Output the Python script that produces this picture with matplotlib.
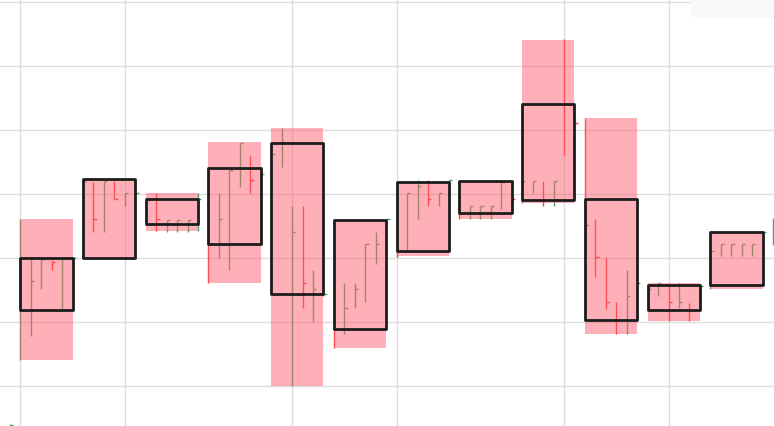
import matplotlib
matplotlib.use("Agg")
import matplotlib.pyplot as plt
from matplotlib.patches import FancyBboxPatch
import numpy as np

# ---- weekly aggregates (12 weeks of 6 trading days) ----
range_hi = [126.0, 132.3, 130.1, 138.1, 140.3, 125.9, 131.8, 132.0, 154.0, 141.9, 116.1, 124.0]
range_lo = [104.0, 120.0, 124.1, 116.0, 100.0, 105.9, 120.3, 126.1, 128.6, 108.1, 110.1, 115.1]
box_hi = [119.9, 132.3, 129.2, 134.0, 138.0, 125.9, 131.8, 132.0, 144.0, 129.2, 115.7, 124.0]
box_lo = [111.8, 120.0, 125.2, 122.1, 114.4, 108.9, 121.0, 127.0, 129.0, 110.2, 111.9, 115.7]

# ---- daily OHLC, one row per week ----
day_open = [
    [107.2, 113.4, 115.7, 119.6, 113.4, 119.3],
    [121.2, 131.4, 125.1, 132.0, 128.1, 129.3],
    [125.3, 130.1, 124.3, 124.3, 124.3, 125.1],
    [129.0, 122.8, 119.6, 132.1, 135.3, 132.6],
    [116.5, 135.3, 119.6, 126.7, 111.8, 114.2],
    [122.8, 109.5, 113.4, 114.2, 120.4, 125.4],
    [129.0, 122.8, 127.5, 131.8, 128.4, 131.7],
    [130.6, 126.5, 126.5, 126.5, 128.2, 129.6],
    [129.0, 130.3, 132.0, 128.4, 153.2, 141.4],
    [141.9, 126.0, 120.1, 113.0, 110.3, 115.7],
    [113.4, 114.3, 115.9, 112.5, 112.8, 112.8],
    [116.5, 120.4, 120.4, 120.4, 120.4, 123.6],
]
day_high = [
    [126.0, 119.8, 119.8, 119.6, 119.8, 120.0],
    [132.3, 131.8, 132.0, 132.0, 130.1, 130.6],
    [129.0, 130.1, 125.9, 125.9, 125.9, 130.1],
    [129.0, 130.1, 133.7, 138.0, 136.0, 133.4],
    [137.6, 140.3, 128.1, 128.1, 118.0, 114.6],
    [122.8, 116.0, 116.0, 122.1, 124.0, 126.0],
    [129.0, 130.1, 132.1, 132.1, 130.1, 132.1],
    [130.6, 128.1, 128.1, 128.1, 131.9, 129.8],
    [132.0, 132.0, 132.0, 132.0, 154.1, 141.5],
    [141.9, 126.0, 120.1, 113.0, 118.0, 116.4],
    [115.6, 116.0, 116.0, 116.0, 112.9, 115.7],
    [122.8, 122.1, 122.1, 122.1, 122.1, 124.0],
]
day_low = [
    [104.0, 107.8, 115.1, 118.0, 112.0, 119.3],
    [120.0, 124.0, 124.0, 129.2, 128.1, 129.0],
    [125.3, 124.2, 124.0, 124.0, 124.0, 124.2],
    [116.0, 120.0, 118.0, 131.1, 130.1, 132.5],
    [115.0, 134.1, 100.0, 112.1, 110.0, 114.0],
    [105.9, 108.1, 112.1, 113.0, 119.0, 125.3],
    [120.1, 121.2, 126.1, 128.1, 128.1, 131.5],
    [126.1, 126.1, 126.1, 126.1, 127.6, 128.7],
    [128.6, 130.1, 128.1, 128.1, 136.0, 140.6],
    [124.3, 117.0, 112.0, 108.1, 108.1, 115.6],
    [112.6, 114.0, 110.1, 112.1, 110.1, 112.6],
    [115.1, 120.2, 120.2, 120.2, 120.2, 123.4],
]
day_close = [
    [111.8, 116.4, 119.8, 119.3, 119.8, 120.0],
    [132.0, 126.0, 132.0, 129.2, 130.1, 130.1],
    [129.0, 126.0, 125.9, 125.9, 125.9, 129.2],
    [122.1, 126.0, 133.7, 138.0, 132.1, 133.1],
    [136.2, 138.1, 124.0, 116.0, 115.1, 114.3],
    [108.9, 112.2, 115.1, 122.1, 122.1, 126.0],
    [121.0, 130.1, 131.2, 129.1, 130.1, 132.1],
    [127.0, 128.1, 128.1, 128.1, 131.8, 129.1],
    [132.0, 132.0, 129.0, 132.0, 144.0, 141.1],
    [125.1, 120.1, 113.0, 110.2, 114.0, 116.0],
    [115.1, 116.0, 113.1, 113.1, 111.9, 115.6],
    [121.0, 122.1, 122.1, 122.1, 122.1, 124.0],
]
# days just outside the 12 weeks (day index, O, H, L, C)
edge_days = [(-1, 92.0, 94.0, 92.0, 93.9), (72, 122.8, 126.2, 122.0, 124.9)]

grid_days = [0, 10, 26, 36, 52, 62]
grid_prices = [100, 110, 120, 130, 140, 150, 160]

DAYS_PER_WEEK = 6
BOX_SPAN = 5

UP = "#4aa864"
DOWN = "#ff3c3c"
PINK = "#ff6171"
BOX = "#1c1c1c"
GRID = "#dddddd"

fig = plt.figure(figsize=(7.74, 4.26), dpi=100)
ax = fig.add_axes([0, 0, 1, 1])
ax.set_xlim(-1.942, 72.09)
ax.set_ylim(93.70, 160.27)
ax.axis("off")

for g in grid_prices:
    ax.axhline(g, color=GRID, lw=1.0, zorder=0)
for d in grid_days:
    ax.axvline(d, color=GRID, lw=1.0, zorder=0)

# collect daily bars
xs, o, h, l, c = [], [], [], [], []
for w in range(len(day_open)):
    for k in range(DAYS_PER_WEEK):
        xs.append(w * DAYS_PER_WEEK + k)
        o.append(day_open[w][k]); h.append(day_high[w][k])
        l.append(day_low[w][k]); c.append(day_close[w][k])
for (d, do, dh, dl, dc) in edge_days:
    xs.append(d); o.append(do); h.append(dh); l.append(dl); c.append(dc)
xs = np.array(xs, float); o = np.array(o); h = np.array(h); l = np.array(l); c = np.array(c)
cols = [UP if cc >= oo else DOWN for oo, cc in zip(o, c)]

ax.vlines(xs, l, h, colors=cols, lw=1.0, zorder=1)
ax.hlines(c, xs, xs + 0.32, colors=cols, lw=1.0, zorder=1)

week_x = np.arange(len(range_hi)) * DAYS_PER_WEEK
rh = np.array(range_hi); rl = np.array(range_lo)
ax.bar(week_x, rh - rl, bottom=rl, width=BOX_SPAN, align="edge",
       color=PINK, alpha=0.5, lw=0, zorder=2)
bh = np.array(box_hi); bl = np.array(box_lo)
bars = ax.bar(week_x, bh - bl, bottom=bl, width=BOX_SPAN, align="edge",
              fill=False, edgecolor=BOX, lw=2.0, zorder=3)
for b in bars:
    b.set_joinstyle("round")

ax.add_patch(FancyBboxPatch((0.892, 0.957), 0.2, 0.1,
                            boxstyle="round,pad=0,rounding_size=0.012",
                            transform=ax.transAxes, facecolor="#f8f8f8",
                            edgecolor="none", zorder=0))

fig.savefig("out.png", dpi=100)
